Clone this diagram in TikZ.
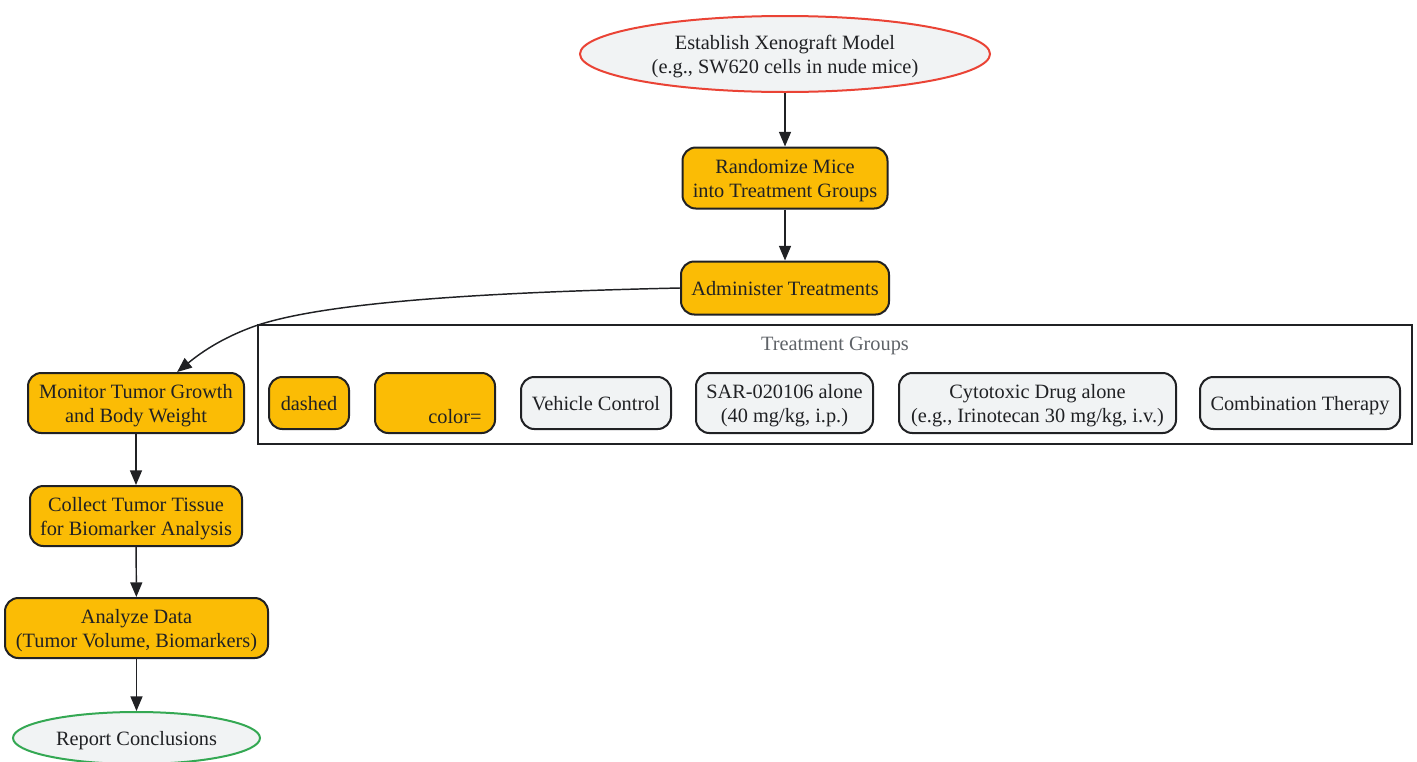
\documentclass[tikz,border=0pt]{standalone}
\usepackage{fontspec}
\setmainfont{Liberation Serif}
\usetikzlibrary{arrows.meta,shapes.geometric}
\definecolor{orangefill}{HTML}{FBBC05}
\definecolor{grayfill}{HTML}{F1F3F4}
\definecolor{edgecol}{HTML}{202124}
\definecolor{redline}{HTML}{EA4335}
\definecolor{greenline}{HTML}{34A853}
\definecolor{labelgray}{HTML}{5F6368}
\begin{document}
\begin{tikzpicture}[x=0.75pt,y=-0.75pt,
  base/.style={font=\fontsize{15.25}{18}\selectfont, text=edgecol, inner sep=0pt, align=center, line width=1.5pt, text depth=0pt},
  twoline/.style={text depth=-2.5pt},
  obox/.style={base, rectangle, draw=edgecol, fill=orangefill, rounded corners=10pt},
  gbox/.style={base, rectangle, draw=edgecol, fill=grayfill, rounded corners=10pt},
  oval/.style={base, ellipse, fill=grayfill},
  arr/.style={-{Triangle[length=11pt,width=9pt]}, line width=1.1pt, draw=edgecol},
  cluster/.style={draw=edgecol, line width=1pt},
]
\path[use as bounding box] (0,0) rectangle (1417,761);

% main column
\node[oval, twoline, draw=redline, minimum width=307.5pt, minimum height=57pt] (est) at (785,54)
  {Establish Xenograft Model\\(e.g., SW620 cells in nude mice)};
\node[obox, twoline, minimum width=153.75pt, minimum height=45.75pt] (rand) at (785,178)
  {Randomize Mice\\into Treatment Groups};
\node[obox, minimum width=156pt, minimum height=39.75pt] (adm) at (785,288)
  {Administer Treatments};

% cluster
\node[cluster, rectangle, minimum width=865.5pt, minimum height=89.25pt, inner sep=0pt] (clu) at (835,384.5) {};
\node[base, text=labelgray] (clulab) at (835,344) {Treatment Groups};
\node[obox, minimum width=60pt, minimum height=39pt] (dash) at (309,403) {dashed};
\node[obox, minimum width=90pt, minimum height=45pt,
  label={[base, xshift=15pt, yshift=-10pt]center:{color=}}] (col) at (435,403) {};
\node[gbox, minimum width=112.5pt, minimum height=39pt] (veh) at (596,403) {Vehicle Control};
\node[gbox, twoline, minimum width=132.75pt, minimum height=45pt] (sar) at (784.5,403)
  {SAR-020106 alone\\(40 mg/kg, i.p.)};
\node[gbox, twoline, minimum width=207.75pt, minimum height=45pt] (cyt) at (1037.5,403)
  {Cytotoxic Drug alone\\(e.g., Irinotecan 30 mg/kg, i.v.)};
\node[gbox, minimum width=150pt, minimum height=39pt] (comb) at (1300,403) {Combination Therapy};

% left column
\node[obox, twoline, minimum width=162pt, minimum height=45pt] (mon) at (136,403)
  {Monitor Tumor Growth\\and Body Weight};
\node[obox, twoline, minimum width=159pt, minimum height=45pt] (coll) at (136,516)
  {Collect Tumor Tissue\\for Biomarker Analysis};
\node[obox, twoline, minimum width=197.25pt, minimum height=45pt] (ana) at (136.5,628)
  {Analyze Data\\(Tumor Volume, Biomarkers)};
\node[oval, draw=greenline, minimum width=185.25pt, minimum height=39pt] (rep) at (136.5,738)
  {Report Conclusions};

% edges
\draw[arr] (est) -- (rand);
\draw[arr] (rand) -- (adm);
\coordinate (via) at (258,325);
\draw[arr] (adm.west) .. controls (450,293) and (320,305) .. (via)
  .. controls (220,338) and (198,355) .. (mon.37.6);
\draw[arr] (mon) -- (coll);
\draw[arr] (coll) -- (ana);
\draw[arr] (ana) -- (rep);
\end{tikzpicture}
\end{document}
